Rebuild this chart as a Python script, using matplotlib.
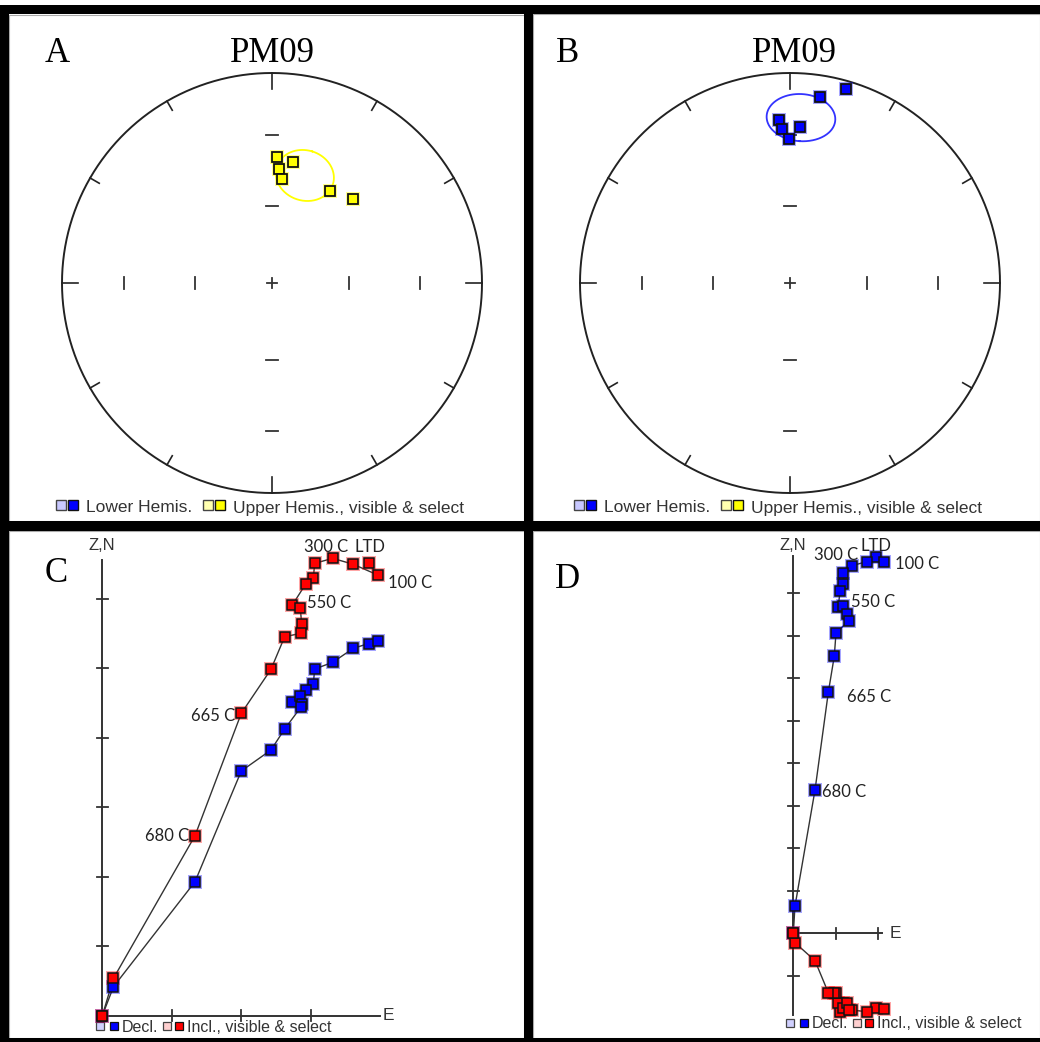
import numpy as np
import matplotlib
matplotlib.use('Agg')
import matplotlib.pyplot as plt
from matplotlib.patches import Rectangle

# ---------------- data ----------------
# Panel A: site PM09, upper hemisphere directions (dec, inc)
a_dec = [2.1, 3.5, 5.3, 10.0, 32.1, 44.1]
a_inc = [-39.6, -44.8, -48.8, -41.2, -46.9, -43.6]
a_mean_dec, a_mean_inc, a_a95 = 17.0, -45.3, 10.5

# Panel B: site PM09, lower hemisphere directions
b_dec = [9.1, 16.0, 356.1, 357.0, 3.7, 359.6]
b_inc = [11.4, 4.5, 23.2, 27.4, 26.6, 32.0]
b_mean_dec, b_mean_inc, b_a95 = 3.8, 21.8, 11.0

# Panel C: Zijderveld (units of one axis tick)
c_E = [3.837, 3.963, 3.612, 3.315, 3.056, 3.036, 2.927, 2.734, 2.849, 2.869,
       2.859, 2.624, 2.427, 2.000, 1.334, 0.161, 0.0]
c_N = [5.348, 5.396, 5.286, 5.085, 4.988, 4.773, 4.686, 4.509, 4.600, 4.485,
       4.442, 4.125, 3.823, 3.521, 1.928, 0.417, 0.0]
c_U = [6.509, 6.341, 6.495, 6.581, 6.509, 6.294, 6.212, 5.909, 5.862, 5.632,
       5.502, 5.453, 4.984, 4.351, 2.590, 0.538, 0.0]

# Panel D: Zijderveld
d_E = [1.939, 2.141, 1.727, 1.374, 1.176, 1.176, 1.099, 1.059, 1.176, 1.271,
       1.311, 1.005, 0.965, 0.824, 0.511, 0.040, 0.0]
d_N = [8.861, 8.744, 8.744, 8.649, 8.485, 8.212, 8.054, 7.685, 7.708, 7.513,
       7.355, 7.073, 6.525, 5.671, 3.372, 0.642, 0.0]
d_U = [-1.751, -1.788, -1.845, -1.805, -1.758, -1.647, -1.845, -1.647, -1.758, -1.647,
       -1.805, -1.398, -1.398, -1.398, -0.645, -0.221, 0.0]

step_labels = ['LTD', '100 C', '300 C', '550 C', '665 C', '680 C']
c_label_idx = [0, 1, 3, 8, 13, 14]
d_label_idx = [0, 1, 4, 8, 13, 14]

# ---------------- figure ----------------
W, H = 1040, 1042
fig = plt.figure(figsize=(W / 100, H / 100), dpi=100)
fig.patch.set_facecolor('white')

bg = fig.add_axes([0, 0, 1, 1])
bg.set_xlim(0, W)
bg.set_ylim(H, 0)
bg.axis('off')


def px_axes(x0, y0, x1, y1):
    ax = fig.add_axes([x0 / W, 1 - y1 / H, (x1 - x0) / W, (y1 - y0) / H])
    ax.axis('off')
    ax.patch.set_alpha(0)
    return ax


# borders
for (x, y, w, h) in [(1, 5, W, 9), (0, 5, 8.5, H), (524, 5, 8.5, H),
                     (0, 521, W, 9.5), (0, 1038, W, 6)]:
    bg.add_patch(Rectangle((x, y), w, h, color='black', lw=0, zorder=5))
for (x0, y0, x1, y1) in [(9, 15, 523.5, 520.5), (533, 14, 1040, 520.5),
                         (9, 531, 523.5, 1037.5), (533, 531, 1040, 1037.5)]:
    bg.plot([x0, x1, x1, x0, x0], [y0, y0, y1, y1, y0], color='#aaaaaa', lw=0.8, zorder=4)

SERIF = 'Liberation Serif'
SANS = 'Liberation Sans'
INK = '#222222'


def eqarea(dec, inc):
    dec = np.radians(np.asarray(dec, float))
    colat = np.radians(90 - np.abs(np.asarray(inc, float)))
    r = np.sqrt(2) * np.sin(colat / 2)
    return r * np.sin(dec), r * np.cos(dec)


def cone(dec, inc, a95, n=241):
    d, i, a = np.radians(dec), np.radians(inc), np.radians(a95)
    m = np.array([np.cos(i) * np.cos(d), np.cos(i) * np.sin(d), np.sin(i)])
    u = np.array([-np.sin(i) * np.cos(d), -np.sin(i) * np.sin(d), np.cos(i)])
    v = np.array([-np.sin(d), np.cos(d), 0.0])
    phi = np.linspace(0, 2 * np.pi, n)
    p = (np.cos(a) * m[:, None] + np.sin(a) * (np.cos(phi) * u[:, None] + np.sin(phi) * v[:, None]))
    dd = np.degrees(np.arctan2(p[1], p[0]))
    ii = np.degrees(np.arcsin(np.clip(p[2], -1, 1)))
    return eqarea(dd, ii)


def draw_net(ax):
    t = np.linspace(0, 2 * np.pi, 721)
    ax.plot(np.cos(t), np.sin(t), color=INK, lw=1.4, zorder=2)
    for ang in range(0, 360, 30):
        a = np.radians(ang)
        L = 0.075 if ang % 90 == 0 else 0.05
        ax.plot([np.sin(a), (1 - L) * np.sin(a)], [np.cos(a), (1 - L) * np.cos(a)],
                color=INK, lw=1.2, zorder=2)
    hl = 0.027
    for inc in (30, 60):
        r = np.sqrt(2) * np.sin(np.radians(90 - inc) / 2)
        for s in (1, -1):
            ax.plot([-hl, hl], [s * r, s * r], color='#333333', lw=1.3, zorder=2)
            ax.plot([s * r, s * r], [-hl, hl], color='#333333', lw=1.3, zorder=2)
    c = 0.024
    ax.plot([-c, c], [0, 0], color='#333333', lw=1.3, zorder=2)
    ax.plot([0, 0], [-c, c], color='#333333', lw=1.3, zorder=2)


def net_axes(cx, cy, R=210, S=240):
    ax = px_axes(cx - S, cy - S, cx + S, cy + S)
    ax.set_xlim(-S / R, S / R)
    ax.set_ylim(-S / R, S / R)
    return ax


# ---- Panel A ----
axA = net_axes(272, 283)
draw_net(axA)
ex, ey = cone(a_mean_dec, a_mean_inc, a_a95)
axA.plot(ex, ey, color='#ffff00', lw=1.3, zorder=3)
x, y = eqarea(a_dec, a_inc)
axA.plot(x, y, 's', ms=10, color='#ffff00', alpha=0.45, mew=0, zorder=4)
axA.plot(x, y, 's', ms=7.2, mfc='#ffff00', mec='#111111', mew=1.3, zorder=5)

# ---- Panel B ----
axB = net_axes(790, 283)
draw_net(axB)
ex, ey = cone(b_mean_dec, b_mean_inc, b_a95)
axB.plot(ex, ey, color='#3333ff', lw=1.3, zorder=3)
x, y = eqarea(b_dec, b_inc)
axB.plot(x, y, 's', ms=10, color='#0000ff', alpha=0.35, mew=0, zorder=4)
axB.plot(x, y, 's', ms=7.2, mfc='#0000ff', mec='#111111', mew=1.3, zorder=5)

# titles
for lab, lx, px_ in [('A', 57, 272), ('B', 568, 794)]:
    bg.text(lx, 53, lab, family=SERIF, fontsize=25, ha='center', va='center', color='black')
    bg.text(px_, 53, 'PM09', family=SERIF, fontsize=25, ha='center', va='center', color='black')
bg.text(56, 573, 'C', family=SERIF, fontsize=25, ha='center', va='center', color='black')
bg.text(568, 579, 'D', family=SERIF, fontsize=25, ha='center', va='center', color='black')

# stereonet legends
for off in (0, 518):
    bg.plot(61 + off, 505, 's', ms=6.5, mfc='#c8c8ff', mec='#444444', mew=1, zorder=6)
    bg.plot(73 + off, 505, 's', ms=6.5, mfc='#0000ff', mec='#111111', mew=1, zorder=6)
    bg.text(86 + off, 508, 'Lower Hemis.', family=SANS, fontsize=12.5, color='#333333',
            ha='left', va='center')
    bg.plot(208 + off, 505, 's', ms=6.5, mfc='#ffffb0', mec='#444444', mew=1, zorder=6)
    bg.plot(220 + off, 505, 's', ms=6.5, mfc='#ffff00', mec='#111111', mew=1, zorder=6)
    bg.text(233 + off, 508, 'Upper Hemis., visible & select', family=SANS, fontsize=12.5,
            color='#333333', ha='left', va='center')


# ---- Zijderveld panels ----
def zij_axes(ox, oy, unit, box):
    x0, y0, x1, y1 = box
    ax = px_axes(x0, y0, x1, y1)
    ax.set_xlim((x0 - ox) / unit, (x1 - ox) / unit)
    ax.set_ylim((oy - y1) / unit, (oy - y0) / unit)
    return ax


def draw_zij(ax, oy, unit, vtop, vbot, hright, vticks, hticks, E, N, U, use_U,
             lab_idx, offsets, elabx):
    ax.plot([0, 0], [vbot, vtop], color='#333333', lw=1.4, zorder=1)
    ax.plot([0, hright], [0, 0], color='#333333', lw=1.4, zorder=1)
    tl = 5.5 / unit
    for t in vticks:
        ax.plot([-tl, tl], [t, t], color='#333333', lw=1.3, zorder=1)
    for t in hticks:
        ax.plot([t, t], [-tl, tl], color='#333333', lw=1.3, zorder=1)
    ax.text(0, (oy - 545) / unit, 'Z,N', family=SANS, fontsize=12, color='#333333',
            ha='center', va='center')
    ax.text(elabx, 0, 'E', family=SANS, fontsize=12.5, color='#333333', ha='left', va='center')
    ax.plot(E, N, color='#333333', lw=1.0, zorder=2)
    ax.plot(E, U, color='#333333', lw=1.0, zorder=2)
    ax.plot(E, N, 's', ms=9.5, color='#0000ff', alpha=0.35, mew=0, zorder=3)
    ax.plot(E, U, 's', ms=9.5, color='#ff0000', alpha=0.35, mew=0, zorder=3)
    ax.plot(E, N, 's', ms=7, mfc='#0000ff', mec='#111111', mew=1.1, zorder=4)
    ax.plot(E, U, 's', ms=7, mfc='#ff0000', mec='#111111', mew=1.1, zorder=5)
    for lab, i, (dx, dy, ha) in zip(step_labels, lab_idx, offsets):
        ax.annotate(lab, (E[i], U[i] if use_U else N[i]), xytext=(dx, dy),
                    textcoords='offset pixels', ha=ha, va='center', family='Lato',
                    fontsize=12, color='#222222', zorder=6)


# C
C_OX, C_OY, C_UNIT = 102.3, 1015.7, 69.5
axC = zij_axes(C_OX, C_OY, C_UNIT, (40, 535, 500, 1036))
draw_zij(axC, C_OY, C_UNIT, (C_OY - 560) / C_UNIT, 0, (380 - C_OX) / C_UNIT,
         [1, 2, 3, 4, 5, 6], [1, 2, 3], c_E, c_N, c_U, True, c_label_idx,
         [(1, 16, 'center'), (10, -8, 'left'), (-7, 11, 'center'),
          (7, 5, 'left'), (-6, -3, 'right'), (-6, 0, 'right')],
         (383 - C_OX) / C_UNIT)

# D
D_OX, D_OY, D_UNIT = 793.3, 933.3, 42.5
axD = zij_axes(D_OX, D_OY, D_UNIT, (560, 535, 1040, 1036))
draw_zij(axD, D_OY, D_UNIT, (D_OY - 556) / D_UNIT, (D_OY - 1015) / D_UNIT, (882 - D_OX) / D_UNIT,
         [-1, 1, 2, 3, 4, 5, 6, 7, 8], [1, 2], d_E, d_N, d_U, False, d_label_idx,
         [(0, 11, 'center'), (11, -2, 'left'), (-7, 18, 'center'),
          (8, 4, 'left'), (19, -5, 'left'), (7, -2, 'left')],
         (890 - D_OX) / D_UNIT)

# Zijderveld legends
for (sx, ty) in [(100, 1027), (790, 1024)]:
    bg.plot(sx, ty - 1.5, 's', ms=5.2, mfc='#d0d0ff', mec='#444444', mew=0.9, zorder=6)
    bg.plot(sx + 14, ty - 1.5, 's', ms=5.2, mfc='#0000ff', mec='#111111', mew=0.9, zorder=6)
    bg.text(sx + 22, ty, 'Decl.', family=SANS, fontsize=11.5, color='#333333', ha='left', va='center')
    bg.plot(sx + 67, ty - 1.5, 's', ms=5.2, mfc='#ffd0d0', mec='#444444', mew=0.9, zorder=6)
    bg.plot(sx + 79, ty - 1.5, 's', ms=5.2, mfc='#ff0000', mec='#111111', mew=0.9, zorder=6)
    bg.text(sx + 87, ty, 'Incl., visible & select', family=SANS, fontsize=11.5, color='#333333',
            ha='left', va='center')

fig.savefig('out.png', dpi=100, facecolor='white')
